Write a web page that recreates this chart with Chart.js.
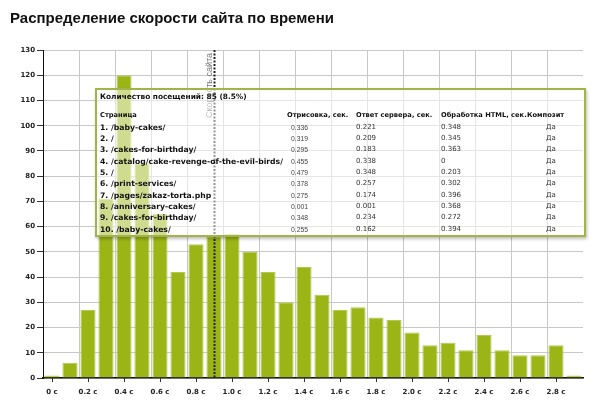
<!DOCTYPE html>
<html lang="ru">
<head>
<meta charset="utf-8">
<title>Распределение скорости сайта по времени</title>
<script src="https://cdn.jsdelivr.net/npm/chart.js@4.4.1/dist/chart.umd.min.js"></script>
<style>
  html, body { margin: 0; padding: 0; background: #fff; }
  #wrap { position: relative; width: 600px; height: 414px; overflow: hidden; }
  #chartTitle {
    position: absolute; left: 10px; top: 10px;
    font: bold 15px/15px "Liberation Sans", Arial, sans-serif;
    color: #111; white-space: nowrap;
  }
  #speedChart { position: absolute; left: 0; top: 0; }
  #tipBox {
    position: absolute; left: 95px; top: 88px;
    width: 487px; height: 145px;
    border: 2px solid #a3b349;
    background: rgba(255, 255, 255, 0.52);
    box-shadow: 1px 2px 3px rgba(0, 0, 0, 0.25);
    font-family: "DejaVu Sans", Verdana, sans-serif;
    font-size: 7px; color: #111;
  }
  #tipBox span {
    position: absolute; line-height: 11px; white-space: nowrap;
  }
  #tipBox .b { font-weight: bold; font-size: 6.7px; }
  #tipBox .head { font-weight: bold; font-size: 7.4px; }
  #tipBox .page { font-weight: bold; font-size: 7.7px; }
  #tipBox .num { color: #333; }
  #tipBox .num1 { font-family: "Liberation Sans", Arial, sans-serif; font-size: 6.8px; color: #444; }
  #tipBox .ctr { transform: translateX(-50%); }
</style>
</head>
<body>
<div id="wrap">
  <canvas id="speedChart" width="600" height="414"></canvas>
  <div id="chartTitle">Распределение скорости сайта по времени</div>
  <div id="tipBox"></div>
</div>

<script>
/* ===============================
   Data
================================*/
const categories = [
  "0 с", "0.1 с", "0.2 с", "0.3 с", "0.4 с", "0.5 с", "0.6 с", "0.7 с", "0.8 с", "0.9 с",
  "1.0 с", "1.1 с", "1.2 с", "1.3 с", "1.4 с", "1.5 с", "1.6 с", "1.7 с", "1.8 с", "1.9 с",
  "2.0 с", "2.1 с", "2.2 с", "2.3 с", "2.4 с", "2.5 с", "2.6 с", "2.7 с", "2.8 с", "2.9 с"
];
const visits = [
  1, 6, 27, 71, 120, 85, 65, 42, 53, 56,
  57, 50, 42, 30, 44, 33, 27, 28, 24, 23,
  18, 13, 14, 11, 17, 11, 9, 9, 13, 1
];
const yMax = 130;
const yStep = 10;

// vertical marker ("site speed")
const markerCategory = "0.9 с";
const markerLabel = "Скорость сайта";

// hovered bar shown in the tooltip box
const hoverCategory = "0.5 с";
const tipHeaders = ["Страница", "Отрисовка, сек.", "Ответ сервера, сек.", "Обработка HTML, сек.", "Композит"];
const tipPages = [
  "/baby-cakes/", "/", "/cakes-for-birthday/", "/catalog/cake-revenge-of-the-evil-birds/", "/",
  "/print-services/", "/pages/zakaz-torta.php", "/anniversary-cakes/", "/cakes-for-birthday/", "/baby-cakes/"
];
const tipRender = ["0.336", "0.319", "0.295", "0.455", "0.479", "0.378", "0.275", "0.001", "0.348", "0.255"];
const tipServer = ["0.221", "0.209", "0.183", "0.338", "0.348", "0.257", "0.174", "0.001", "0.234", "0.162"];
const tipHtml = ["0.348", "0.345", "0.363", "0", "0.203", "0.302", "0.396", "0.368", "0.272", "0.394"];
const tipComposite = ["Да", "Да", "Да", "Да", "Да", "Да", "Да", "Да", "Да", "Да"];

/* ===============================
   Plugins: marker line + x tick marks
================================*/
const markerPlugin = {
  id: "speedMarker",
  afterDatasetsDraw(chart) {
    const { ctx, chartArea, scales } = chart;
    const x = Math.round(scales.x.getPixelForValue(categories.indexOf(markerCategory))) + 0.5;

    ctx.save();
    ctx.strokeStyle = "#222";
    ctx.lineWidth = 2;
    ctx.setLineDash([2, 1.5]);
    ctx.beginPath();
    ctx.moveTo(x, chartArea.top);
    ctx.lineTo(x, chartArea.bottom);
    ctx.stroke();

    ctx.setLineDash([]);
    ctx.translate(x - 5, chartArea.top + 3);
    ctx.rotate(-Math.PI / 2);
    ctx.fillStyle = "#777";
    ctx.font = '9px "Liberation Sans", Arial, sans-serif';
    ctx.textAlign = "right";
    ctx.textBaseline = "middle";
    ctx.fillText(markerLabel, 0, 0);
    ctx.restore();
  }
};

const xTickMarks = {
  id: "xTickMarks",
  afterDraw(chart) {
    const { ctx, chartArea, scales } = chart;
    ctx.save();
    ctx.strokeStyle = "#333";
    ctx.lineWidth = 1;
    scales.x.ticks.forEach((t, i) => {
      if (i % 2 !== 0) return;
      const x = Math.round(scales.x.getPixelForTick(i)) + 0.5;
      ctx.beginPath();
      ctx.moveTo(x, chartArea.bottom);
      ctx.lineTo(x, chartArea.bottom + 4);
      ctx.stroke();
    });
    ctx.restore();
  }
};

/* ===============================
   Chart
================================*/
const tickFont = { family: '"DejaVu Sans", Verdana, sans-serif', size: 7, weight: "bold" };

new Chart(document.getElementById("speedChart"), {
  type: "bar",
  data: {
    labels: categories,
    datasets: [{
      data: visits,
      backgroundColor: "#9bb516",
      borderColor: "#b4c94f",
      borderWidth: 1,
      barPercentage: 0.84,
      categoryPercentage: 1
    }]
  },
  options: {
    responsive: false,
    animation: false,
    layout: { padding: { top: 50, right: 17, left: 0, bottom: 0 } },
    plugins: {
      legend: { display: false },
      tooltip: { enabled: false },
      title: { display: false }
    },
    scales: {
      x: {
        offset: true,
        afterFit(scale) { scale.height = 36; },
        grid: {
          offset: true,
          drawTicks: false,
          color: (ctx) => (ctx.index % 2 === 0 ? "#c8c8c8" : "rgba(0,0,0,0)")
        },
        border: { color: "#111", width: 1.5 },
        ticks: {
          autoSkip: false,
          maxRotation: 0,
          padding: 10,
          color: "#222",
          font: tickFont,
          callback: (val, i) => (i % 2 === 0 ? categories[i] : "")
        }
      },
      y: {
        min: 0,
        max: yMax,
        afterFit(scale) { scale.width = 43; },
        grid: { color: "#c8c8c8", tickLength: 6, tickColor: "#333" },
        border: { color: "#111", width: 1 },
        ticks: { stepSize: yStep, padding: 2, color: "#222", font: tickFont }
      }
    }
  },
  plugins: [markerPlugin, xTickMarks]
});

/* ===============================
   Tooltip box (static hover state)
================================*/
function addSpan(box, text, left, top, cls) {
  const s = document.createElement("span");
  s.textContent = text;
  s.style.left = left + "px";
  s.style.top = top + "px";
  if (cls) s.className = cls;
  box.appendChild(s);
}

function buildTip() {
  const box = document.getElementById("tipBox");
  const total = visits.reduce((a, b) => a + b, 0);
  const count = visits[categories.indexOf(hoverCategory)];
  const pct = ((count / total) * 100).toFixed(1);

  addSpan(box, "Количество посещений: " + count + " (" + pct + "%)", 3, 1, "head");

  const colX = [3, 190, 259, 344, 430];
  tipHeaders.forEach((h, i) => addSpan(box, h, colX[i], 20, "b"));

  tipPages.forEach((p, r) => {
    const top = 31.8 + r * 11.3;
    addSpan(box, (r + 1) + ". " + p, 3, top, "page");
    addSpan(box, tipRender[r], 194, top, "num1");
    addSpan(box, tipServer[r], 259, top, "num");
    addSpan(box, tipHtml[r], 344, top, "num");
    addSpan(box, tipComposite[r], 454, top, "num ctr");
  });
}

buildTip();
</script>
</body>
</html>
